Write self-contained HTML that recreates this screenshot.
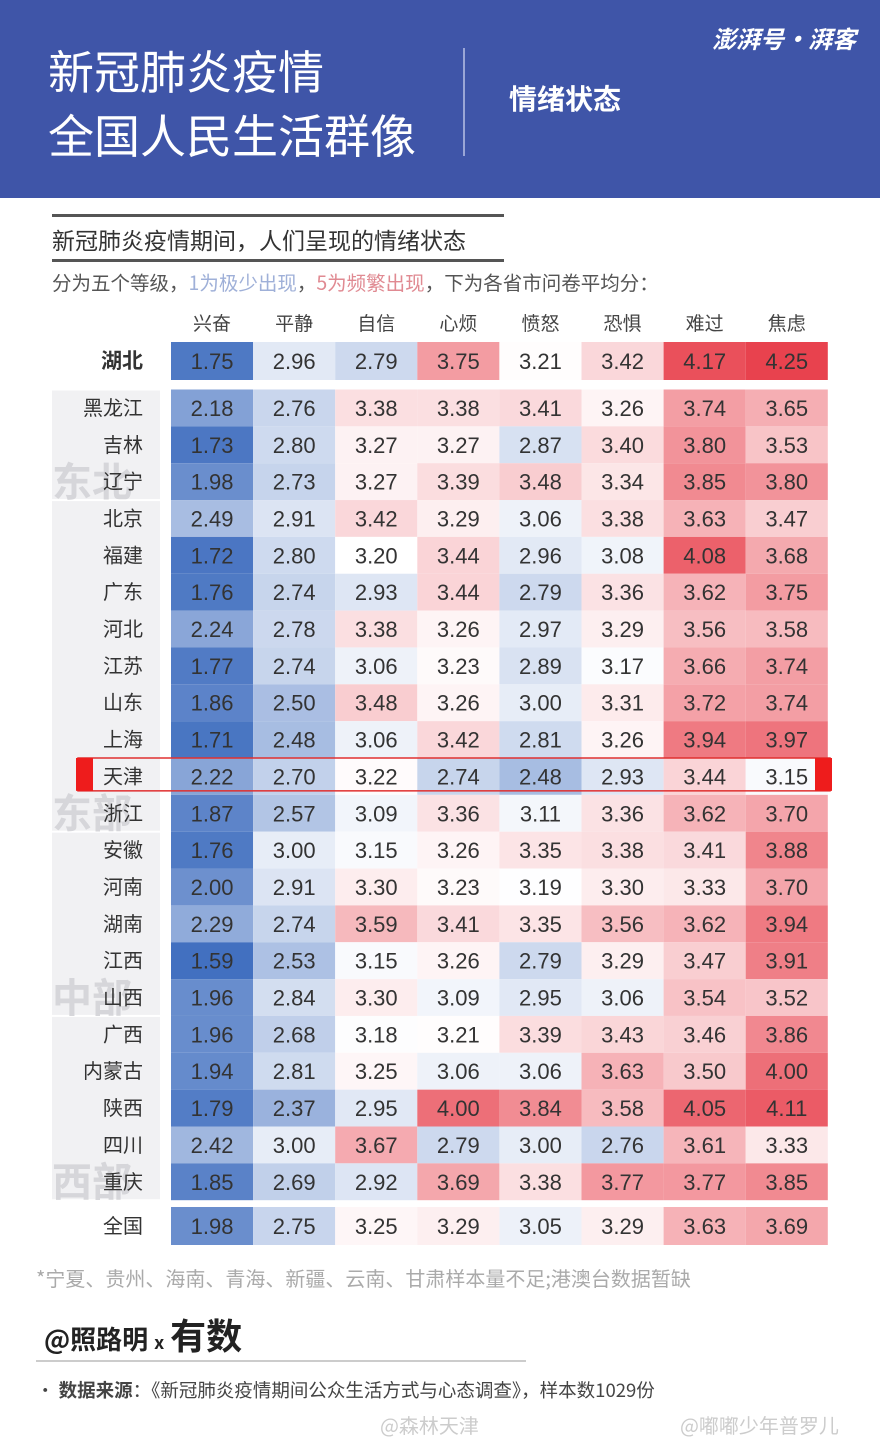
<!DOCTYPE html>
<html><head><meta charset="utf-8">
<style>
body{margin:0;width:880px;height:1446px;background:#fff;font-family:"Liberation Sans","Noto Sans CJK SC",sans-serif;overflow:hidden;position:relative}
.abs{position:absolute;white-space:nowrap}
</style></head><body>
<div class="abs" style="left:0;top:0;width:880px;height:198px;background:#3f55a8"></div>
<div class="abs" style="left:48px;top:38px;color:#fff;font-size:46px;line-height:64px;font-family:'Noto Sans CJK SC',sans-serif">新冠肺炎疫情<br>全国人民生活群像</div>
<div class="abs" style="left:463px;top:48px;width:2px;height:108px;background:#9aa6d6"></div>
<div class="abs" style="left:509px;top:78px;color:#fff;font-size:28px;font-weight:bold;font-family:'Noto Sans CJK SC',sans-serif">情绪状态</div>
<div class="abs" style="left:712px;top:20px;color:#fff;font-size:24px;font-weight:bold;font-style:italic;font-family:'Noto Sans CJK SC',sans-serif">澎湃号·湃客</div>
<div class="abs" style="left:52px;top:214px;width:452px;height:3px;background:#555"></div>
<div class="abs" style="left:52px;top:222px;font-size:23px;color:#333;font-family:'Noto Sans CJK SC',sans-serif">新冠肺炎疫情期间，人们呈现的情绪状态</div>
<div class="abs" style="left:52px;top:259px;width:452px;height:3px;background:#555"></div>
<div class="abs" style="left:52px;top:267px;font-size:19.5px;color:#555;font-family:'Noto Sans CJK SC',sans-serif">分为五个等级，<span style="color:#9fb0d8">1为极少出现</span>，<span style="color:#e08a92">5为频繁出现</span>，下为各省市问卷平均分：</div>
<svg id="chart" class="abs" style="left:0;top:0" width="880" height="1446"></svg>
<div class="abs" style="left:36px;top:1263px;font-size:20px;color:#aaa;font-family:'Noto Sans CJK SC',sans-serif">*宁夏、贵州、海南、青海、新疆、云南、甘肃样本量不足;港澳台数据暂缺</div>
<div class="abs" style="left:44px;top:1308px;font-size:26px;font-weight:bold;color:#222;font-family:'Noto Sans CJK SC',sans-serif">@照路明 <span style="font-size:18px">x</span> <span style="font-size:36px">有数</span></div>
<div class="abs" style="left:36px;top:1360px;width:490px;height:2px;background:#ccc"></div>
<div class="abs" style="left:36px;top:1377px;font-size:18.5px;color:#444;font-family:'Noto Sans CJK SC',sans-serif">• <b>数据来源</b>：《新冠肺炎疫情期间公众生活方式与心态调查》，样本数1029份</div>
<div class="abs" style="left:380px;top:1410px;font-size:20px;color:#ccc;font-family:'Noto Sans CJK SC',sans-serif">@森林天津</div>
<div class="abs" style="left:680px;top:1410px;font-size:20px;color:#ccc;font-family:'Noto Sans CJK SC',sans-serif">@嘟嘟少年普罗儿</div>
<script>
const emotions=["兴奋","平静","自信","心烦","愤怒","恐惧","难过","焦虑"];
const provinces=["黑龙江","吉林","辽宁","北京","福建","广东","河北","江苏","山东","上海","天津","浙江","安徽","河南","湖南","江西","山西","广西","内蒙古","陕西","四川","重庆"];
const hubeiValues=[1.75,2.96,2.79,3.75,3.21,3.42,4.17,4.25];
const nationalValues=[1.98,2.75,3.25,3.29,3.05,3.29,3.63,3.69];
const provinceValues=[
[2.18,2.76,3.38,3.38,3.41,3.26,3.74,3.65],
[1.73,2.80,3.27,3.27,2.87,3.40,3.80,3.53],
[1.98,2.73,3.27,3.39,3.48,3.34,3.85,3.80],
[2.49,2.91,3.42,3.29,3.06,3.38,3.63,3.47],
[1.72,2.80,3.20,3.44,2.96,3.08,4.08,3.68],
[1.76,2.74,2.93,3.44,2.79,3.36,3.62,3.75],
[2.24,2.78,3.38,3.26,2.97,3.29,3.56,3.58],
[1.77,2.74,3.06,3.23,2.89,3.17,3.66,3.74],
[1.86,2.50,3.48,3.26,3.00,3.31,3.72,3.74],
[1.71,2.48,3.06,3.42,2.81,3.26,3.94,3.97],
[2.22,2.70,3.22,2.74,2.48,2.93,3.44,3.15],
[1.87,2.57,3.09,3.36,3.11,3.36,3.62,3.70],
[1.76,3.00,3.15,3.26,3.35,3.38,3.41,3.88],
[2.00,2.91,3.30,3.23,3.19,3.30,3.33,3.70],
[2.29,2.74,3.59,3.41,3.35,3.56,3.62,3.94],
[1.59,2.53,3.15,3.26,2.79,3.29,3.47,3.91],
[1.96,2.84,3.30,3.09,2.95,3.06,3.54,3.52],
[1.96,2.68,3.18,3.21,3.39,3.43,3.46,3.86],
[1.94,2.81,3.25,3.06,3.06,3.63,3.50,4.00],
[1.79,2.37,2.95,4.00,3.84,3.58,4.05,4.11],
[2.42,3.00,3.67,2.79,3.00,2.76,3.61,3.33],
[1.85,2.69,2.92,3.69,3.38,3.77,3.77,3.85]];
const regions=["东北","东部","中部","西部"];
const regionSpans=[[0,3],[3,12],[12,17],[17,22]];
const svg=document.getElementById('chart');
const NS='http://www.w3.org/2000/svg';
const x0=171,cw=82.1,rowTop=389.5,rh=36.85;
const xAt=i=>x0+i*cw;
const yAt=r=>rowTop+r*rh;
function color(v){
  const mid=3.2;
  if(v<mid){const t=Math.min(1,(mid-v)/1.55);return `rgb(${Math.round(255-t*(255-66))},${Math.round(255-t*(255-112))},${Math.round(255-t*(255-192))})`;}
  const t=Math.min(1,(v-mid)/1.05);return `rgb(${Math.round(255-t*(255-232))},${Math.round(255-t*(255-66))},${Math.round(255-t*(255-78))})`;
}
function mk(tag,attrs){const e=document.createElementNS(NS,tag);for(const k in attrs)e.setAttribute(k,attrs[k]);svg.appendChild(e);return e;}
regionSpans.forEach((s,i)=>{
  const r=mk('rect',{x:52,y:yAt(s[0])+1,width:108,height:(s[1]-s[0])*rh-2,fill:'#f1f1f3'});
  
  
  const t=mk('text',{x:52,y:yAt(s[1])-4,'font-size':40,fill:'#d6d6da','font-family':'Noto Sans CJK SC, sans-serif','font-weight':'bold'});
  t.textContent=regions[i];
  
  
});
emotions.forEach((e,i)=>{
  const t=mk('text',{x:xAt(i)+cw/2,y:330,'text-anchor':'middle','font-size':19,fill:'#444','font-family':'Noto Sans CJK SC, sans-serif'});
  t.textContent=e;
  
  
});
function drawRow(label,vals,yTop,h,bold){
  const lt=mk('text',{x:143,y:yTop+h/2+7,'text-anchor':'end','font-size':bold?21:20,'font-weight':bold?'bold':'normal',fill:'#333','font-family':'Noto Sans CJK SC, sans-serif'});
  lt.textContent=label;
  
  
  vals.forEach((v,i)=>{
    const r=mk('rect',{x:xAt(i),y:yTop,width:cw,height:h,fill:color(v)});
    
    
    const t=mk('text',{x:xAt(i)+cw/2,y:yTop+h/2+8,'text-anchor':'middle','font-size':22,fill:'#333','font-family':'Liberation Sans Narrow, Liberation Sans, sans-serif'});
    t.textContent=v.toFixed(2);
    
    
  });
}
drawRow('湖北',hubeiValues,342,38,true);
provinces.forEach((p,r)=>drawRow(p,provinceValues[r],yAt(r),rh,false));
drawRow('全国',nationalValues,1207,38,false);
const ti=provinces.indexOf('天津');
const hl=mk('rect',{x:78,y:yAt(ti),width:752,height:rh-4,fill:'none',stroke:'#e03030','stroke-width':1.5});


const m1=mk('rect',{x:76,y:yAt(ti),width:17,height:rh-4,fill:'#ee1c1c'});


const m2=mk('rect',{x:815,y:yAt(ti),width:17,height:rh-4,fill:'#ee1c1c'});


</script>
</body></html>
